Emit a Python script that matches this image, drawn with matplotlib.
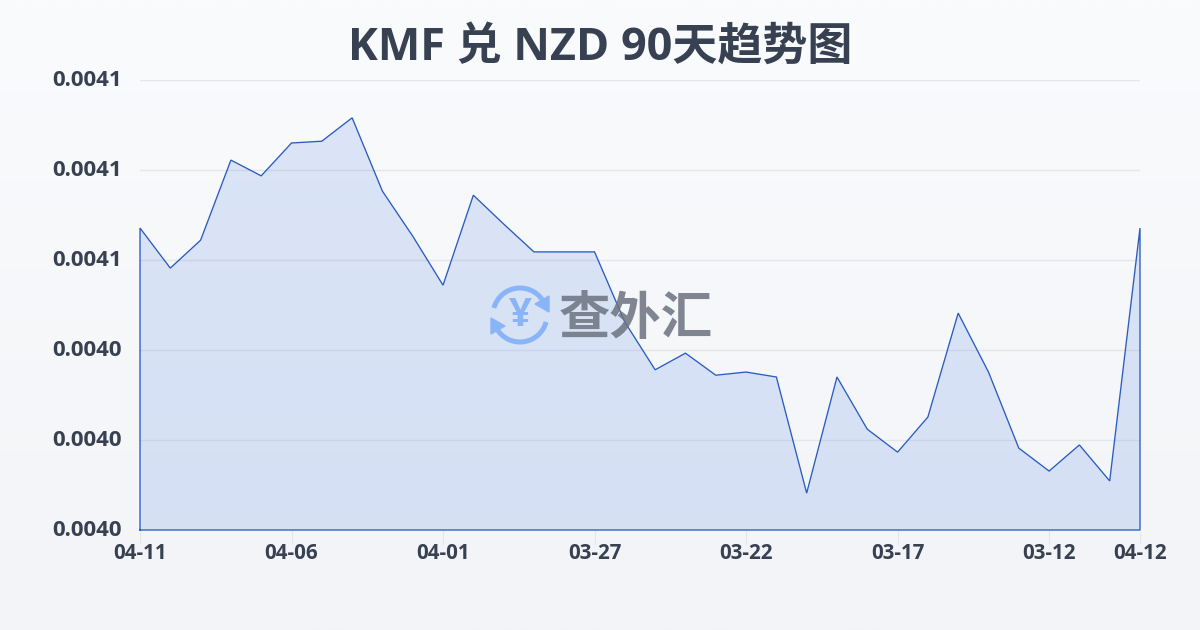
#!/usr/bin/env python3
import numpy as np
import matplotlib
matplotlib.use("Agg")
from matplotlib import pyplot as plt
from matplotlib.patches import Arc, Polygon
from matplotlib.transforms import ScaledTranslation

plt.rcParams['font.family'] = ['Open Sans', 'Noto Sans CJK SC', 'DejaVu Sans']

title = "KMF 兑 NZD 90天趋势图"
rates = [0.0040671, 0.0040582, 0.0040644, 0.0040822, 0.0040787, 0.0040860, 0.0040864,
         0.0040916, 0.0040753, 0.0040653, 0.0040544, 0.0040744, 0.0040680, 0.0040618,
         0.0040618, 0.0040618, 0.0040462, 0.0040356, 0.0040393, 0.0040344, 0.0040351,
         0.0040340, 0.0040082, 0.0040340, 0.0040224, 0.0040173, 0.0040251, 0.0040482,
         0.0040351, 0.0040182, 0.0040131, 0.0040189, 0.0040109, 0.0040671]
date_ticks = [0, 5, 10, 15, 20, 25, 30, 33]
date_labels = ["04-11", "04-06", "04-01", "03-27", "03-22", "03-17", "03-12", "04-12"]
y_ticks = [0.00400, 0.00402, 0.00404, 0.00406, 0.00408, 0.00410]

text_color = "#374151"
line_color = "#2a5cc0"

fig = plt.figure(figsize=(12, 6.3), dpi=100)

# background gradient
bg = fig.add_axes([0, 0, 1, 1], zorder=0)
bg.imshow(np.linspace(0, 1, 256).reshape(-1, 1),
          cmap=matplotlib.colors.LinearSegmentedColormap.from_list("bg", ["#f9fbfd", "#f2f4f7"]),
          aspect="auto", extent=[0, 1200, 630, 0])
bg.axis("off")

ax = fig.add_axes([140 / 1200, 1 - 530 / 630, 1000 / 1200, 450 / 630], zorder=1)
ax.patch.set_visible(False)
xs = np.arange(len(rates))

ax.set_xlim(0, len(rates) - 1)
ax.set_ylim(y_ticks[0], y_ticks[-1])
ax.grid(axis="y", color="#e3e6eb", linewidth=1)
ax.set_axisbelow(True)

ax.fill_between(xs, rates, y_ticks[0], facecolor="#356cdf", alpha=0.15, linewidth=0)
ax.plot(np.r_[xs[0], xs, xs[-1], xs[0]], np.r_[y_ticks[0], rates, y_ticks[0], y_ticks[0]],
        color=line_color, linewidth=0.95, clip_on=False, solid_joinstyle="miter")

for s in ax.spines.values():
    s.set_visible(False)
ax.set_yticks(y_ticks)
ax.set_yticklabels(["%.4f" % v for v in y_ticks], fontsize=16, fontweight="bold", color=text_color)
ax.set_xticks(date_ticks)
ax.set_xticklabels(date_labels, fontsize=14.8, fontweight="bold", color=text_color)
ax.tick_params(axis="y", length=0, pad=13)
ax.tick_params(axis="x", length=10, width=0.8, color="#e3e6eb", pad=-0.5)

# y labels sit slightly above their grid lines
up = ScaledTranslation(0, 2 / 100, fig.dpi_scale_trans)
for lab in ax.get_yticklabels():
    lab.set_transform(lab.get_transform() + up)

fig.text(0.5, 1 - 48 / 630, title, ha="center", va="center", fontsize=32.4,
         fontweight="bold", color="#374151")

# watermark, drawn on a pixel-sized overlay
wm = fig.add_axes([0, 0, 1, 1], zorder=2)
wm.set_xlim(0, 1200)
wm.set_ylim(630, 0)
wm.axis("off")
icon = "#8ab4f8"
cx, cy = 520, 315
wm.add_patch(Arc((cx, cy), 54, 54, theta1=195, theta2=335, color=icon, lw=3.6))
wm.add_patch(Arc((cx, cy), 54, 54, theta1=15, theta2=150, color=icon, lw=3.6))
wm.add_patch(Polygon([[549, 296], [549, 312], [535, 304]], color=icon))
wm.add_patch(Polygon([[491, 318], [491, 334], [505, 326]], color=icon))
wm.text(cx, cy, "¥", ha="center", va="center", fontsize=29, fontweight="bold", color=icon)
wm.text(636, 321, "查外汇", ha="center", va="center", fontsize=37, fontweight="bold",
        color="#6b7280", alpha=0.85)

fig.savefig("out.png", dpi=100)
